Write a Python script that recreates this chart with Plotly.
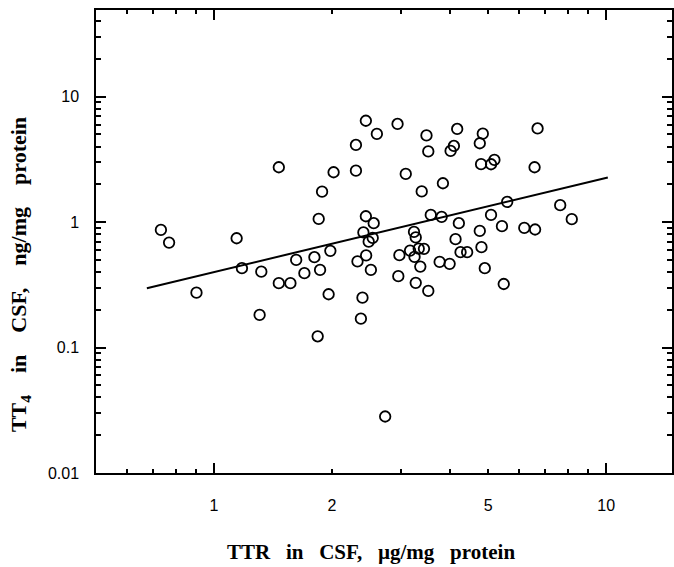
import numpy as np
import plotly.graph_objects as go

# TTR in CSF (µg/mg protein)
ttr = [1.463, 2.018, 2.301, 1.886, 1.849, 2.439, 2.554, 2.404, 2.480, 2.539,
       0.732, 0.768, 1.142, 1.178, 1.320, 1.463, 1.566, 1.620, 1.700, 1.803,
       1.864, 1.980, 2.443, 2.322, 2.512, 1.960, 2.391, 0.902, 1.307, 2.369,
       1.838, 2.439, 2.938, 2.602, 2.301, 3.482, 4.170, 4.847, 6.686, 3.519,
       4.090, 4.012, 4.762, 4.798, 5.087, 5.189, 6.569, 3.083, 3.835, 3.386,
       3.571, 3.806, 5.593, 7.636, 8.173, 4.211, 5.087, 5.424, 6.184, 6.589,
       4.762, 3.236, 3.269, 4.130, 4.809, 3.162, 3.327, 3.431, 3.246, 2.970,
       4.253, 4.421, 3.762, 3.989, 3.358, 4.904, 2.951, 3.269, 3.519, 5.481,
       2.732]
# TT4 in CSF (ng/mg protein)
tt4 = [2.738, 2.498, 2.573, 1.750, 1.060, 1.114, 0.980, 0.828, 0.699, 0.748,
       0.867, 0.687, 0.744, 0.429, 0.403, 0.326, 0.326, 0.500, 0.392, 0.525,
       0.416, 0.590, 0.543, 0.486, 0.416, 0.266, 0.250, 0.274, 0.182, 0.170,
       0.123, 6.427, 6.060, 5.045, 4.122, 4.908, 5.529, 5.073, 5.580, 3.660,
       4.047, 3.693, 4.253, 2.899, 2.893, 3.131, 2.738, 2.422, 2.042, 1.757,
       1.141, 1.100, 1.449, 1.366, 1.055, 0.980, 1.141, 0.928, 0.899, 0.873,
       0.851, 0.835, 0.755, 0.731, 0.631, 0.593, 0.614, 0.612, 0.528, 0.545,
       0.576, 0.576, 0.482, 0.465, 0.442, 0.429, 0.371, 0.328, 0.283, 0.321,
       0.0282]

# power-law regression line  TT4 = a * TTR^b
fit_a = 0.40
fit_b = 0.75
fit_x = np.array([0.674, 10.1])
fit_y = fit_a * fit_x ** fit_b

x_tickvals = [0.6, 0.7, 0.8, 0.9, 1, 2, 3, 4, 5, 6, 7, 8, 9, 10]
x_ticktext = ["", "", "", "", "1", "2", "", "", "5", "", "", "", "", "10"]
x_major = [1, 10]
y_major = [0.01, 0.1, 1, 10]
y_major_text = ["0.01", "0.1", "1", "10"]
y_minor = [0.02, 0.03, 0.04, 0.05, 0.06, 0.07, 0.08, 0.09,
           0.2, 0.3, 0.4, 0.5, 0.6, 0.7, 0.8, 0.9,
           2, 3, 4, 5, 6, 7, 8, 9, 20, 30, 40]

x_range = [np.log10(0.5), 1.168]
y_range = [-2, 1.691]

fig = go.Figure()
fig.add_trace(go.Scatter(x=fit_x, y=fit_y, mode="lines",
                         line=dict(color="black", width=2), showlegend=False))
fig.add_trace(go.Scatter(x=ttr, y=tt4, mode="markers", showlegend=False,
                         marker=dict(symbol="circle-open", size=10.5, color="black",
                                     line=dict(width=1.8, color="black"))))
fig.add_trace(go.Scatter(x=[None], y=[None], xaxis="x2", yaxis="y", showlegend=False))

tickfont = dict(family="Liberation Sans, Arial, sans-serif", size=16, color="black")
xtitlefont = dict(family="Liberation Serif, Times New Roman, serif", size=21, color="black",
                  weight="bold")
ytitlefont = dict(family="Liberation Serif, Times New Roman, serif", size=22, color="black",
                  weight="bold")
GX = "\u00a0" * 3
GY = "\u00a0" * 4

fig.update_layout(
    width=674, height=567,
    margin=dict(l=96, r=0, t=10, b=94),
    paper_bgcolor="white", plot_bgcolor="white",
    xaxis=dict(type="log", range=x_range, tickvals=x_tickvals, ticktext=x_ticktext,
               ticks="inside", ticklen=4, tickwidth=1.5, tickcolor="black",
               showline=True, linecolor="black", linewidth=1.5, mirror="ticks",
               showgrid=False, zeroline=False, tickfont=tickfont,
               ticklabelstandoff=17),
    xaxis2=dict(type="log", range=x_range, overlaying="x", anchor="y", side="bottom",
                tickvals=x_major, ticks="inside", ticklen=10, tickwidth=1.5,
                tickcolor="black", showticklabels=False, showline=False,
                mirror="ticks", showgrid=False, zeroline=False),
    yaxis=dict(type="log", range=y_range, tickvals=y_major, ticktext=y_major_text,
               ticks="inside", ticklen=10, tickwidth=1.5, tickcolor="black",
               minor=dict(tickvals=y_minor, ticks="inside", ticklen=5, tickwidth=1.5,
                          tickcolor="black", showgrid=False),
               showline=True, linecolor="black", linewidth=1.5, mirror="ticks",
               showgrid=False, zeroline=False, tickfont=tickfont,
               ticklabelstandoff=12),
    annotations=[
        dict(text=f"TTR{GX}in{GX}CSF,{GX}µg/mg{GX}protein",
             xref="paper", yref="paper",
             x=(372 - 96) / 578, y=(473.3 - 552) / 463.3, xanchor="center", yanchor="middle",
             showarrow=False, font=xtitlefont),
        dict(text=f"TT<sub>4</sub>{GY}in{GY}CSF,{GY}ng/mg{GY}protein",
             xref="paper", yref="paper",
             x=(20 - 96) / 578, y=(473.3 - 275) / 463.3, xanchor="center", yanchor="middle",
             textangle=-90, showarrow=False, font=ytitlefont),
    ],
)

fig.write_html("out.html", config={"displayModeBar": False},
               post_script="document.body.style.margin='0';document.body.style.overflow='hidden';")
